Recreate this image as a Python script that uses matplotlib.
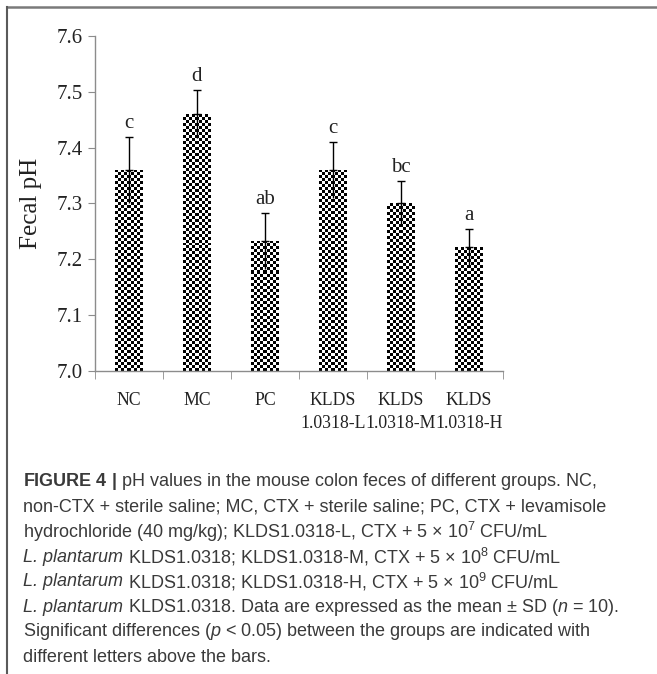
import numpy as np
import matplotlib
matplotlib.use("Agg")
import matplotlib.pyplot as plt
from matplotlib.lines import Line2D

# ---- data ----
groups = ["NC", "MC", "PC", "KLDS\n1.0318-L", "KLDS\n1.0318-M", "KLDS\n1.0318-H"]
ph_mean = [7.36, 7.46, 7.233, 7.36, 7.30, 7.222]
ph_sd = [0.06, 0.043, 0.05, 0.05, 0.04, 0.033]
letters = ["c", "d", "ab", "c", "bc", "a"]
yticks = [7.0, 7.1, 7.2, 7.3, 7.4, 7.5, 7.6]
ylabel = "Fecal pH"

# each caption line: (italic prefix or "", rest of line)
caption_lines = [
    ("", r"$\mathbf{FIGURE\ 4\ |}$ pH values in the mouse colon feces of different groups. NC,"),
    ("", r"non-CTX + sterile saline; MC, CTX + sterile saline; PC, CTX + levamisole"),
    ("", r"hydrochloride (40 mg/kg); KLDS1.0318-L, CTX + 5 × 10$^{7}$ CFU/mL"),
    ("L. plantarum", r" KLDS1.0318; KLDS1.0318-M, CTX + 5 × 10$^{8}$ CFU/mL"),
    ("L. plantarum", r" KLDS1.0318; KLDS1.0318-H, CTX + 5 × 10$^{9}$ CFU/mL"),
    ("L. plantarum", r" KLDS1.0318. Data are expressed as the mean ± SD ($\mathit{n}$ = 10)."),
    ("", r"Significant differences ($\mathit{p}$ < 0.05) between the groups are indicated with"),
    ("", r"different letters above the bars."),
]

plt.rcParams["mathtext.fontset"] = "custom"
plt.rcParams["mathtext.rm"] = "Liberation Sans"
plt.rcParams["mathtext.it"] = "Liberation Sans:italic"
plt.rcParams["mathtext.bf"] = "Liberation Sans:bold"

W, H = 657, 674
DPI = 100
fig = plt.figure(figsize=(W / DPI, H / DPI), dpi=DPI)

ax_l, ax_r, ax_t, ax_b = 95, 503, 36, 371
ax = fig.add_axes([ax_l / W, 1 - ax_b / H, (ax_r - ax_l) / W, (ax_b - ax_t) / H])

x = np.arange(len(groups))
ymin, ymax = yticks[0], yticks[-1]
ax.set_xlim(-0.5, len(groups) - 0.5)
ax.set_ylim(ymin, ymax)

bars = ax.bar(x, ph_mean, width=0.4, facecolor="none", edgecolor="none", zorder=2)

px_per_x = (ax_r - ax_l) / (len(groups))
px_per_y = (ax_b - ax_t) / (ymax - ymin)
cell = 3.0
for b in bars:
    x0 = b.get_x()
    x1 = x0 + b.get_width()
    y0 = ymin
    y1 = b.get_y() + b.get_height()
    ncol = max(1, int(round((x1 - x0) * px_per_x / cell)))
    nrow = max(1, int(round((y1 - y0) * px_per_y / cell)))
    ii, jj = np.indices((nrow, ncol))
    arr = ((ii + jj) % 2).astype(float)
    im = ax.imshow(arr, cmap="gray", vmin=0, vmax=1, extent=[x0, x1, y0, y1],
                   origin="lower", interpolation="nearest", aspect="auto", zorder=2)
    im.set_clip_path(b)

ax.set_xlim(-0.5, len(groups) - 0.5)
ax.set_ylim(ymin, ymax)

# error bars: symmetric line, cap only on top
ax.errorbar(x, ph_mean, yerr=[ph_sd, [0] * len(ph_sd)], fmt="none", ecolor="black",
            elinewidth=1.0, capsize=0, zorder=3)
ax.errorbar(x, ph_mean, yerr=[[0] * len(ph_sd), ph_sd], fmt="none", ecolor="black",
            elinewidth=1.0, capsize=3, capthick=1.0, zorder=3)

for xi, m, s, lab in zip(x, ph_mean, ph_sd, letters):
    ax.text(xi, m + s + 0.007, lab, ha="center", va="bottom",
            family="Liberation Serif", fontsize=15, color="#222222")

for sp in ["top", "right"]:
    ax.spines[sp].set_visible(False)
for sp in ["left", "bottom"]:
    ax.spines[sp].set_color("#8c8c8c")
    ax.spines[sp].set_linewidth(1.0)

ax.set_yticks(yticks)
ax.set_yticklabels([f"{v:.1f}" for v in yticks], family="Liberation Serif", fontsize=15,
                   color="#222222")
ax.tick_params(axis="y", direction="out", length=5, color="#8c8c8c", pad=4)

ax.set_xticks(x)
ax.set_xticklabels(groups, family="Liberation Serif", fontsize=12.8, color="#222222",
                   linespacing=1.5, va="top")
ax.set_xticks(np.arange(len(groups) + 1) - 0.5, minor=True)
ax.tick_params(axis="x", which="major", length=0, pad=15)
ax.tick_params(axis="x", which="minor", direction="out", length=6, color="#8c8c8c")

ax.set_ylabel(ylabel, family="Liberation Serif", fontsize=18, color="#222222", labelpad=10)

# figure border (top and left)
fig.add_artist(Line2D([7 / W, 1.0], [1 - 7 / H, 1 - 7 / H], transform=fig.transFigure,
                      color="#7a7a7a", linewidth=1.8))
fig.add_artist(Line2D([7 / W, 7 / W], [1 - 7 / H, 0.0], transform=fig.transFigure,
                      color="#5a5a5a", linewidth=1.5))

# caption
renderer = fig.canvas.get_renderer()
cap_y0, cap_dy = 482, 25.0
cap_kw = dict(va="center", ha="left", family="Liberation Sans", fontsize=13, color="#3a3a3a")
for i, (ital, rest) in enumerate(caption_lines):
    yy = 1 - (cap_y0 + i * cap_dy) / H
    xx = 23 / W
    if ital:
        t = fig.text(xx, yy, ital, style="italic", **cap_kw)
        bb = t.get_window_extent(renderer=renderer)
        xx = bb.x1 / fig.bbox.width
    fig.text(xx, yy, rest, **cap_kw)

fig.savefig("out.png", dpi=DPI)
